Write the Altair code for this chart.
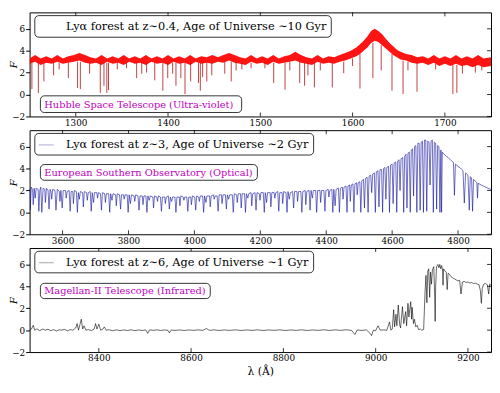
import altair as alt
import pandas as pd

FONT = "DejaVu Serif"
W, H = 470, 106
Y_DOM = [-2, 7.5]
Y_TICKS = [-2, 0, 2, 4, 6]
MAGENTA = "#bf00bf"

# ---------------- Panel 1 : HST (UV) ----------------
p1_xdom = [1250, 1750]
p1_ticks = [1300, 1400, 1500, 1600, 1700]
p1_wave = [1250, 1256, 1262, 1268, 1274, 1280, 1286, 1292, 1298, 1304, 1310, 1316, 1322, 1328, 1334,
           1340, 1346, 1352, 1358, 1364, 1370, 1376, 1382, 1388, 1394, 1400, 1406, 1412, 1418, 1424,
           1430, 1436, 1442, 1448, 1454, 1460, 1466, 1472, 1478, 1484, 1490, 1496, 1502, 1508, 1514,
           1520, 1526, 1532, 1538, 1544, 1550, 1556, 1562, 1568, 1574, 1580, 1586, 1592, 1598, 1604,
           1608, 1612, 1616, 1620, 1624, 1628, 1632, 1636, 1640, 1644, 1648, 1652, 1658, 1664, 1670,
           1676, 1682, 1688, 1694, 1700, 1706, 1712, 1718, 1724, 1730, 1736, 1742, 1750]
p1_hi = [3.3, 3.6, 3.3, 3.5, 3.3, 3.6, 3.3, 3.5, 3.6, 3.8, 3.6, 3.4, 3.3, 3.6, 3.3,
         3.5, 3.3, 3.6, 3.3, 3.5, 3.3, 3.6, 3.3, 3.5, 3.3, 3.6, 3.3, 3.5, 3.3, 3.6,
         3.3, 3.5, 3.4, 3.6, 3.4, 3.6, 3.8, 3.6, 3.4, 3.3, 3.6, 3.3, 3.5, 3.3, 3.6,
         3.3, 3.5, 3.6, 3.9, 3.6, 3.4, 3.3, 3.6, 3.3, 3.5, 3.4, 3.6, 3.8, 4.0, 4.3,
         4.6, 4.9, 5.3, 5.8, 6.0, 5.8, 5.5, 5.1, 4.7, 4.4, 4.1, 3.9, 3.7, 3.6, 3.4,
         3.5, 3.3, 3.6, 3.3, 3.5, 3.3, 3.6, 3.3, 3.5, 3.3, 3.6, 3.3, 3.4]
p1_lo = [2.8, 3.0, 2.7, 2.9, 2.8, 3.0, 2.8, 2.9, 3.0, 3.1, 2.9, 2.8, 2.9, 2.7, 3.0,
         2.8, 2.9, 2.7, 3.0, 2.8, 2.9, 2.7, 3.0, 2.8, 2.9, 2.7, 3.0, 2.8, 2.9, 2.7,
         3.0, 2.8, 2.9, 2.8, 3.0, 2.9, 3.1, 2.9, 2.8, 2.7, 3.0, 2.8, 2.9, 2.7, 3.0,
         2.8, 2.9, 3.0, 3.1, 2.9, 2.8, 2.7, 3.0, 2.8, 2.9, 2.8, 3.0, 3.1, 3.3, 3.5,
         3.7, 4.0, 4.3, 4.7, 4.9, 4.8, 4.5, 4.2, 3.9, 3.6, 3.4, 3.2, 3.1, 2.9, 2.8,
         2.9, 2.7, 2.9, 2.6, 2.8, 2.6, 2.8, 2.6, 2.7, 2.5, 2.7, 2.5, 2.6]
p1_abs_wave = [1252.5, 1259.5, 1265.5, 1276, 1282, 1292, 1302, 1305, 1315, 1326.6, 1330.6, 1333.7,
               1335.5, 1345, 1355, 1366, 1371.5, 1376.8, 1385.6, 1394.4, 1399.7, 1405, 1408.6,
               1413.9, 1418.4, 1424.5, 1433, 1435, 1437.5, 1442, 1447.4, 1461.5, 1468.5, 1473.8,
               1480, 1490, 1505, 1514.5, 1526.8, 1532, 1542.7, 1548, 1551.6, 1558.6, 1565, 1578,
               1590.4, 1600, 1608, 1622, 1631, 1642.7, 1654.7, 1660, 1669.8, 1690, 1708.7, 1713,
               1719, 1733, 1740]
p1_abs_depth = [0.5, 0.15, 1.2, 1.75, 2.3, 1.5, 0.6, 0.5, 1.9, 0.15, 0.8, 0.15,
                0.4, 2.3, 2.4, 1.5, 1.9, 2.0, 1.3, 0.35, 1.5, 1.9, 0.8,
                1.5, 0.05, 1.2, 1.05, 0.35, 1.6, 1.2, 1.75, 1.9, 1.2, 2.2,
                2.3, 2.4, 2.4, 1.05, 0.44, 2.2, 1.05, 0.8, 1.75, 0.65, 2.2, 0.65,
                1.95, 2.6, 0.55, 1.5, 2.2, 0.35, 0.05, 2.2, 0.25, 2.3, 0.05, 0.15,
                1.9, 2.0, 2.2]
p1_abs_top = [2.9, 2.9, 2.9, 2.9, 2.9, 2.9, 3.0, 3.0, 2.9, 2.9, 2.9, 2.9,
              2.9, 2.9, 2.9, 2.9, 2.9, 2.9, 2.9, 2.9, 2.9, 2.9, 2.9,
              2.9, 2.9, 2.9, 2.9, 2.9, 2.9, 2.9, 2.9, 3.0, 3.0, 3.0,
              2.9, 2.9, 2.9, 2.9, 2.9, 3.0, 3.0, 2.9, 2.9, 2.9, 2.9, 2.9,
              3.0, 3.3, 3.7, 4.7, 4.5, 3.7, 3.1, 3.0, 2.9, 2.8, 2.7, 2.7,
              2.7, 2.6, 2.6]

# ---------------- Panel 2 : ESO (optical) ----------------
p2_xdom = [3500, 4900]
p2_ticks = [3600, 3800, 4000, 4200, 4400, 4600, 4800]
p2_wave = [3500, 3502, 3505, 3509, 3511, 3514, 3517, 3520, 3526, 3528, 3531, 3534, 3537, 3541, 3546,
           3548, 3551, 3556, 3559, 3562, 3565, 3567, 3570, 3577, 3580, 3584, 3590, 3592, 3595, 3599,
           3602, 3609, 3611, 3614, 3620, 3623, 3626, 3631, 3633, 3636, 3642, 3645, 3648, 3651, 3654,
           3661, 3663, 3666, 3673, 3675, 3678, 3684, 3687, 3690, 3694, 3697, 3704, 3706, 3709,
           3715, 3718, 3721, 3728, 3730, 3733, 3740, 3743, 3746, 3750, 3753, 3761, 3763, 3766, 3773,
           3776, 3779, 3785, 3787, 3790, 3796, 3799, 3802, 3806, 3809, 3817, 3819, 3822, 3829, 3832,
           3835, 3842, 3844, 3847, 3853, 3856, 3859, 3863, 3866, 3874, 3876, 3879, 3886, 3888, 3891,
           3897, 3900, 3903, 3910, 3912, 3915, 3921, 3924, 3927, 3931, 3934, 3941, 3944, 3947, 3954,
           3956, 3959, 3966, 3968, 3971, 3977, 3980, 3983, 3989, 3991, 3994,
           4001, 4004, 4007, 4013, 4015, 4018, 4025, 4028, 4031, 4035, 4038, 4046, 4048, 4051, 4058,
           4060, 4063, 4069, 4072, 4075, 4082, 4084, 4087, 4094, 4097, 4100, 4104, 4107, 4115, 4118,
           4121, 4128, 4130, 4133, 4140, 4142, 4145, 4152, 4155, 4158, 4162, 4165, 4172, 4174, 4177,
           4184, 4187, 4190, 4197, 4199, 4202, 4209, 4212, 4215, 4219, 4222, 4230, 4232, 4235, 4242,
           4244, 4247, 4253, 4256, 4259, 4266, 4268, 4271, 4278, 4281, 4284, 4288, 4291, 4298,
           4301, 4304, 4311, 4313, 4316, 4323, 4326, 4329, 4336, 4338, 4341, 4348, 4351, 4354, 4358,
           4361, 4368, 4371, 4374, 4381, 4383, 4386, 4393, 4396, 4399, 4406, 4408, 4411, 4417, 4420,
           4423, 4427, 4430, 4437, 4440, 4443, 4449, 4451, 4454, 4460, 4463, 4466, 4471, 4473, 4476,
           4481, 4484, 4487, 4492, 4494, 4497, 4502, 4505, 4508,
           4513, 4516, 4519, 4524, 4527, 4530, 4535, 4538, 4541, 4546, 4549, 4552, 4557, 4560, 4563,
           4568, 4571, 4574, 4578, 4581, 4584, 4589, 4592, 4595, 4600, 4603, 4606, 4611, 4614, 4617,
           4621, 4624, 4627, 4632, 4635, 4638, 4642, 4645, 4648, 4652, 4655, 4658, 4662, 4665, 4668,
           4672, 4675, 4678, 4682, 4685, 4688, 4692, 4695, 4698, 4702, 4705, 4708, 4712, 4715, 4718,
           4722, 4725, 4728, 4732, 4735, 4738, 4742, 4745, 4748, 4750, 4752,
           4756, 4760, 4765, 4770, 4775, 4780, 4786, 4789, 4792, 4800, 4805, 4810, 4815, 4819, 4823,
           4830, 4834, 4837, 4841, 4844, 4847, 4853, 4857, 4859, 4861, 4870, 4880, 4890, 4900]
p2_flux = [2.2, 0.2, 2.3, 2.1, 0.7, 2.2, 1.3, 2.2, 2.1, 0.1, 2.0, 2.3, 0.0, 2.2, 2.1,
           0.9, 2.2, 2.0, 0.3, 2.1, 1.9, 1.2, 2.1, 2.0, 0.2, 2.1, 1.9, 1.0, 2.0, 0.4,
           2.0, 2.0, 1.3, 1.9, 2.0, 0.1, 1.9, 1.9, 0.8, 2.0, 1.9, 0.0, 1.8, 1.2, 1.9,
           1.8, 0.5, 1.9, 1.8, 1.1, 1.8, 1.9, 0.1, 1.8, 0.9, 1.8, 1.8, 1.3, 1.8,
           1.7, 0.2, 1.8, 1.7, 0.9, 1.7, 1.7, 0.0, 1.7, 1.1, 1.7, 1.6, 0.6, 1.7, 1.6,
           0.3, 1.6, 1.6, 1.2, 1.6, 1.6, 0.0, 1.6, 0.8, 1.6, 1.5, 1.0, 1.6, 1.5, 0.2,
           1.5, 1.5, 0.7, 1.5, 1.5, 0.0, 1.5, 1.1, 1.5, 1.4, 0.4, 1.5, 1.4, 1.0, 1.5,
           1.4, 0.1, 1.4, 1.4, 0.8, 1.4, 1.5, 0.3, 1.4, 1.0, 1.4, 1.4, 0.0, 1.4, 1.4,
           0.6, 1.5, 1.4, 1.1, 1.4, 1.4, 0.1, 1.4, 1.4, 0.7, 1.5,
           1.4, 0.2, 1.5, 1.4, 1.0, 1.5, 1.5, 0.0, 1.5, 0.9, 1.5, 1.5, 0.5, 1.5, 1.6,
           1.2, 1.5, 1.5, 0.1, 1.6, 1.6, 0.8, 1.6, 1.6, 0.3, 1.6, 1.2, 1.6, 1.6, 0.0,
           1.7, 1.6, 0.9, 1.7, 1.7, 0.4, 1.7, 1.7, 0.0, 1.7, 1.3, 1.7, 1.8, 0.6, 1.7,
           1.8, 0.2, 1.8, 1.7, 1.1, 1.8, 1.8, 0.0, 1.8, 0.9, 1.8, 1.8, 0.5, 1.8, 1.8,
           1.3, 1.8, 1.9, 0.1, 1.8, 1.8, 0.8, 1.9, 1.8, 0.0, 1.9, 1.2, 1.8, 1.9,
           0.4, 1.9, 1.9, 1.0, 1.9, 1.9, 0.0, 1.9, 2.0, 0.7, 1.9, 2.0, 0.2, 2.0, 1.3,
           2.0, 2.0, 0.0, 2.0, 2.0, 0.9, 2.0, 2.0, 0.1, 2.0, 2.1, 1.4, 2.0, 2.1, 0.0,
           2.1, 0.6, 2.1, 2.2, 0.0, 2.2, 2.3, 1.2, 2.3, 2.4, 0.0, 2.4, 2.5, 1.0, 2.5,
           2.6, 0.0, 2.6, 2.7, 1.6, 2.7, 2.8, 0.0, 2.9,
           3.0, 0.4, 3.1, 3.2, 0.0, 3.3, 3.4, 1.8, 3.5, 3.6, 0.0, 3.7, 3.8, 0.5, 3.9,
           3.9, 0.0, 4.0, 4.1, 1.2, 4.1, 4.2, 0.0, 4.3, 4.4, 0.8, 4.5, 4.6, 0.0, 4.7,
           4.8, 2.0, 4.9, 5.0, 0.0, 5.1, 5.3, 0.4, 5.4, 5.5, 0.0, 5.7, 5.8, 1.5, 6.0,
           6.1, 0.0, 6.3, 6.3, 0.2, 6.4, 6.5, 0.0, 6.6, 6.6, 0.1, 6.5, 6.4, 2.5, 6.5,
           6.6, 0.0, 6.4, 6.3, 0.3, 6.1, 6.0, 0.0, 5.7, 0.0, 5.5,
           5.35, 5.25, 5.1, 5.0, 4.85, 4.7, 4.55, 1.56, 4.4, 4.2, 4.1, 3.95, 3.8, 0.85, 3.6,
           3.4, 0.2, 3.25, 3.15, 0.1, 3.0, 2.85, 2.7, 1.3, 2.65, 2.5, 2.35, 2.2, 2.1]

# ---------------- Panel 3 : Magellan (IR) ----------------
p3_xdom = [8250, 9250]
p3_ticks = [8400, 8600, 8800, 9000, 9200]
p3_wave = [8250, 8254, 8258, 8261, 8266, 8272, 8278, 8284, 8290, 8296, 8302, 8308, 8314, 8320, 8326,
           8332, 8338, 8344, 8350, 8353, 8356, 8359, 8362, 8365, 8368, 8372, 8378, 8384, 8390, 8393,
           8396, 8400, 8404, 8409, 8412, 8416, 8422, 8430, 8438, 8446, 8454, 8462, 8470, 8478, 8486,
           8494, 8502, 8506, 8510, 8518, 8526, 8534, 8542, 8550, 8553, 8557, 8565, 8575, 8585, 8595,
           8605, 8615, 8625, 8633, 8640, 8650, 8660, 8672, 8684, 8696, 8708, 8720, 8732, 8744, 8756,
           8768, 8780, 8792, 8804, 8816, 8828, 8840, 8852, 8864, 8876, 8888, 8900, 8912, 8924, 8936,
           8948, 8955, 8960, 8970, 8980, 8988, 8991, 8995, 9000, 9005, 9010, 9018, 9024, 9030, 9033,
           9036, 9039, 9041, 9044, 9046, 9049, 9052, 9054, 9058, 9061, 9065, 9067, 9070, 9072, 9076,
           9078, 9079, 9082, 9084, 9087, 9090, 9093, 9097, 9100, 9104, 9107, 9109, 9111, 9113, 9115,
           9117, 9119, 9121, 9123, 9126, 9128, 9129, 9130, 9132, 9135, 9137, 9139, 9141, 9143, 9145,
           9146, 9147, 9150, 9153, 9155, 9157, 9160, 9163, 9166, 9170, 9174, 9178, 9182, 9185, 9188,
           9192, 9196, 9200, 9204, 9208, 9212, 9216, 9220, 9224, 9227, 9229, 9231, 9234, 9238, 9242,
           9245, 9247, 9250]
p3_flux = [0.05, 0.1, 0.45, 0.0, 0.12, -0.05, 0.1, 0.0, 0.08, -0.05, 0.05, -0.08, 0.04, 0.0, 0.07,
           -0.06, 0.05, 0.0, 0.2, 0.6, 0.0, 0.5, 1.0, 0.1, 0.4, 0.0, 0.05, -0.04, 0.1, 0.6,
           0.1, 0.55, 0.0, 0.1, 0.3, 0.0, 0.04, -0.05, 0.03, -0.04, 0.02, -0.03, 0.03, -0.04, 0.02,
           -0.03, 0.02, -0.3, 0.03, -0.02, 0.03, -0.03, 0.02, -0.02, -0.25, 0.02, -0.03, 0.02, -0.03, 0.02,
           -0.02, 0.03, -0.02, 0.15, -0.02, 0.03, -0.03, 0.02, -0.02, 0.03, -0.03, 0.02, -0.02, 0.03, -0.03,
           0.02, -0.02, 0.03, -0.03, 0.02, -0.02, 0.03, -0.03, 0.02, -0.02, 0.04, -0.03, 0.03, -0.02, 0.04,
           -0.03, -0.4, 0.02, -0.03, 0.03, -0.3, -0.5, 0.0, -0.05, 0.4, 0.0, 0.03, -0.02, 0.75, 0.0,
           0.1, 1.87, 0.3, 1.45, 0.4, 2.3, 0.5, 0.2, 2.15, 0.6, 1.7, 0.4, 2.45, 1.2, 2.6,
           1.0, 2.1, 0.6, 1.0, 0.3, 0.45, 0.05, 0.1, 0.0, 0.05, 3.5, 5.0, 2.5, 5.4, 5.6,
           3.0, 5.3, 4.2, 5.5, 5.8, 3.0, 0.8, 4.0, 5.8, 6.0, 5.7, 6.0, 5.6, 5.9, 5.5,
           4.1, 5.6, 5.4, 5.3, 3.7, 5.2, 5.1, 4.9, 4.8, 4.7, 4.6, 4.5, 4.55, 3.3, 4.4,
           4.45, 4.35, 4.4, 4.3, 4.35, 4.25, 4.3, 4.2, 4.15, 3.6, 2.45, 3.8, 4.2, 4.25, 4.15,
           3.3, 4.2, 4.1]

legend1 = "Ly\u03b1 forest at z\u223c0.4, Age of Universe \u223c10 Gyr"
legend2 = "Ly\u03b1 forest at z\u223c3, Age of Universe \u223c2 Gyr"
legend3 = "Ly\u03b1 forest at z\u223c6, Age of Universe \u223c1 Gyr"
note1 = "Hubble Space Telescope (Ultra-violet)"
note2 = "European Southern Observatory (Optical)"
note3 = "Magellan-II Telescope (Infrared)"


def xenc(xdom, xticks, title, field="w"):
    if title:
        ax = alt.Axis(values=xticks, format="d", ticks=False, labelPadding=2,
                      labelFontSize=9, title=title, titleFontSize=11,
                      titleFontWeight="normal", titlePadding=3)
    else:
        ax = alt.Axis(values=xticks, format="d", ticks=False, labelPadding=2,
                      labelFontSize=9, title=None)
    return alt.X(field + ":Q", scale=alt.Scale(domain=xdom, nice=False, zero=False), axis=ax)


def yenc(field="f"):
    return alt.Y(field + ":Q", scale=alt.Scale(domain=Y_DOM, nice=False, zero=False),
                 axis=alt.Axis(values=Y_TICKS, title="F", titleFontStyle="italic",
                               titleFontWeight="normal", titleFontSize=10, titleX=-11,
                               tickSize=4, labelPadding=1, labelFontSize=9))


def frame_ticks(xdom, xticks, title):
    xt = pd.DataFrame({"w": xticks})
    yt = pd.DataFrame({"f": Y_TICKS})
    top = alt.Chart(xt).mark_rule(color="black", strokeWidth=0.8).encode(
        x=xenc(xdom, xticks, title), y=alt.value(0), y2=alt.value(4))
    bot = alt.Chart(xt).mark_rule(color="black", strokeWidth=0.8).encode(
        x=xenc(xdom, xticks, title), y=alt.value(H), y2=alt.value(H - 4))
    right = alt.Chart(yt).mark_rule(color="black", strokeWidth=0.8).encode(
        y=yenc(), x=alt.value(W), x2=alt.value(W - 4))
    return [top, bot, right]


def note_layers(note, x1, x2, y1, y2):
    nd = pd.DataFrame({"t": [note]})
    box = alt.Chart(nd).mark_rect(fill="white", stroke="black", strokeWidth=0.8,
                                  cornerRadius=4).encode(
        x=alt.value(x1), x2=alt.value(x2), y=alt.value(y1), y2=alt.value(y2))
    txt = alt.Chart(nd).mark_text(align="left", baseline="middle", font=FONT, fontSize=10,
                                  color=MAGENTA).encode(
        x=alt.value(x1 + 4), y=alt.value((y1 + y2) / 2 + 0.5), text="t:N")
    return [box, txt]


def leg():
    return alt.Legend(title=None, orient="none", legendX=5, legendY=3,
                      fillColor="white", strokeColor="black", cornerRadius=4, padding=4,
                      labelFont=FONT, labelFontSize=11.5, labelLimit=500, labelColor="black",
                      symbolType="stroke", symbolSize=225, symbolStrokeWidth=1,
                      symbolOpacity=0.35, labelOffset=12)


# ---- panel 1
d1 = pd.DataFrame({"w": p1_wave, "f": p1_hi, "lo": p1_lo, "s": [legend1] * len(p1_wave)})
a1 = pd.DataFrame({"w": p1_abs_wave, "d": p1_abs_depth, "t": p1_abs_top})
band1 = alt.Chart(d1).mark_area(opacity=0.92, clip=True).encode(
    x=xenc(p1_xdom, p1_ticks, None), y=yenc("f"), y2="lo:Q",
    color=alt.Color("s:N", scale=alt.Scale(range=["#ff0000"]), legend=leg()))
rules1 = alt.Chart(a1).mark_rule(color="#b01010", strokeWidth=0.8, clip=True).encode(
    x=xenc(p1_xdom, p1_ticks, None), y=yenc("d"), y2="t:Q")
panel1 = alt.layer(band1, rules1, *frame_ticks(p1_xdom, p1_ticks, None),
                   *note_layers(note1, 11, 216, 85, 102)).properties(width=W, height=H)

# ---- panel 2
d2 = pd.DataFrame({"w": p2_wave, "f": p2_flux, "s": [legend2] * len(p2_wave)})
line2 = alt.Chart(d2).mark_line(strokeWidth=0.6, clip=True).encode(
    x=xenc(p2_xdom, p2_ticks, None), y=yenc("f"),
    color=alt.Color("s:N", scale=alt.Scale(range=["#0c0c9c"]), legend=leg()))
panel2 = alt.layer(line2, *frame_ticks(p2_xdom, p2_ticks, None),
                   *note_layers(note2, 11, 232, 35, 51)).properties(width=W, height=H)

# ---- panel 3
d3 = pd.DataFrame({"w": p3_wave, "f": p3_flux, "s": [legend3] * len(p3_wave)})
line3 = alt.Chart(d3).mark_line(strokeWidth=0.6, clip=True).encode(
    x=xenc(p3_xdom, p3_ticks, "\u03bb (\u00c5)"), y=yenc("f"),
    color=alt.Color("s:N", scale=alt.Scale(range=["#000000"]), legend=leg()))
panel3 = alt.layer(line3, *frame_ticks(p3_xdom, p3_ticks, "\u03bb (\u00c5)"),
                   *note_layers(note3, 11, 184, 36, 51.5)).properties(width=W, height=H)

chart = alt.vconcat(panel1, panel2, panel3, spacing=14, bounds="flush").resolve_scale(
    color="independent", x="independent", y="independent").resolve_legend(
    color="independent").properties(padding=0).configure_view(
    stroke="black", strokeWidth=1).configure_axis(
    labelFont=FONT, titleFont=FONT, labelColor="black", titleColor="black",
    titleFontWeight="normal", domain=False, grid=False, tickColor="black").configure_legend(
    strokeWidth=0.8)

chart.save("out.html", embed_options={"renderer": "svg", "actions": False})
